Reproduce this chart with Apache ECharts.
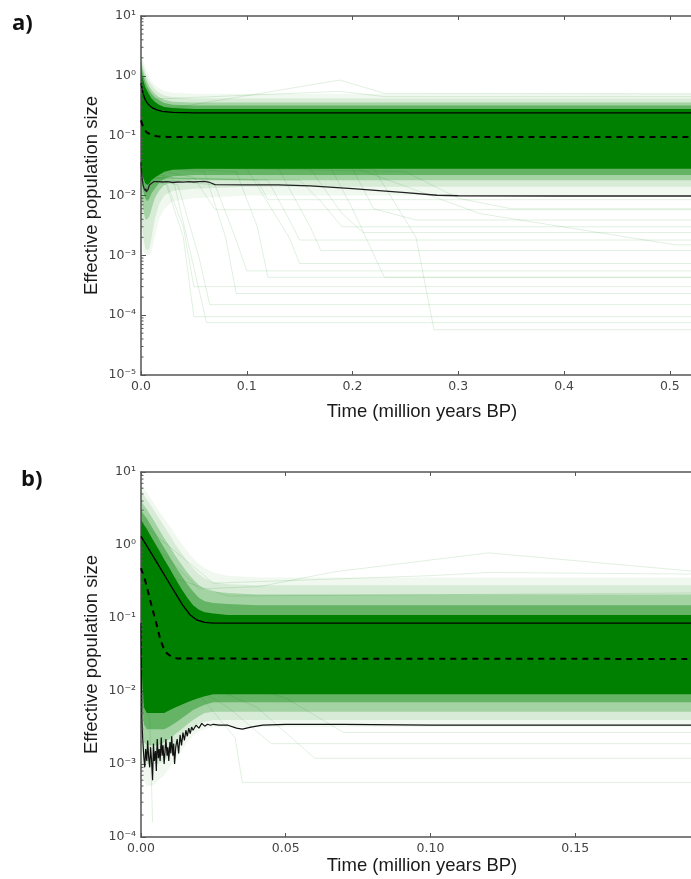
<!DOCTYPE html>
<html><head><meta charset="utf-8">
<script src="https://cdn.jsdelivr.net/npm/echarts@6/dist/echarts.min.js"></script>
<style>html,body{margin:0;padding:0;background:#fff;overflow:hidden}#c{width:691px;height:879px}</style>
</head><body><div id="c"></div><script>
// ---------- Panel a data (time in million years BP, Ne) ----------
const bandTimeA = [0, 0.002, 0.004, 0.006, 0.008, 0.010, 0.013, 0.017, 0.022, 0.03, 0.05, 0.1, 0.2, 0.3, 0.4, 0.52];
const coreUpA  = [1.2, 0.85, 0.65, 0.55, 0.48, 0.42, 0.37, 0.33, 0.30, 0.29, 0.28, 0.28, 0.28, 0.28, 0.28, 0.28];
const coreLoA  = [0.03, 0.02, 0.016, 0.015, 0.016, 0.018, 0.02, 0.022, 0.025, 0.027, 0.028, 0.028, 0.028, 0.028, 0.028, 0.028];
const band2UpA = [1.5, 1.05, 0.8, 0.66, 0.57, 0.5, 0.44, 0.39, 0.35, 0.33, 0.32, 0.32, 0.32, 0.32, 0.32, 0.32];
const band2LoA = [0.02, 0.012, 0.009, 0.008, 0.009, 0.011, 0.013, 0.016, 0.019, 0.021, 0.022, 0.022, 0.022, 0.022, 0.022, 0.022];
const band3UpA = [1.75, 1.25, 0.95, 0.78, 0.66, 0.58, 0.5, 0.44, 0.4, 0.37, 0.36, 0.36, 0.36, 0.36, 0.36, 0.36];
const band3LoA = [0.012, 0.006, 0.004, 0.004, 0.0045, 0.006, 0.009, 0.012, 0.015, 0.017, 0.018, 0.018, 0.018, 0.018, 0.018, 0.018];
const band4UpA = [2.1, 1.5, 1.15, 0.95, 0.8, 0.7, 0.6, 0.52, 0.47, 0.44, 0.42, 0.42, 0.42, 0.42, 0.42, 0.42];
const band4LoA = [0.006, 0.002, 0.0013, 0.0012, 0.0013, 0.002, 0.004, 0.007, 0.01, 0.012, 0.013, 0.014, 0.014, 0.014, 0.014, 0.014];
const band5UpA = [2.3, 1.8, 1.4, 1.15, 0.95, 0.82, 0.7, 0.62, 0.56, 0.52, 0.5, 0.5, 0.5, 0.5, 0.5, 0.5];
const band5LoA = [0.003, 0.0012, 0.001, 0.001, 0.001, 0.0012, 0.002, 0.004, 0.006, 0.008, 0.009, 0.01, 0.01, 0.01, 0.01, 0.01];

const upperTimeA = [0, 0.002, 0.004, 0.006, 0.008, 0.011, 0.015, 0.02, 0.03, 0.05, 0.52];
const upperA     = [0.75, 0.5, 0.4, 0.35, 0.32, 0.29, 0.27, 0.255, 0.245, 0.24, 0.24];
const medianTimeA = [0, 0.002, 0.005, 0.01, 0.015, 0.025, 0.52];
const medianA     = [0.18, 0.14, 0.115, 0.102, 0.098, 0.095, 0.095];
const lowerTimeA = [0, 0.0005, 0.001, 0.0015, 0.002, 0.0025, 0.003, 0.0035, 0.004, 0.0045, 0.005, 0.0055, 0.006, 0.0065, 0.007, 0.008, 0.009, 0.010, 0.011, 0.012, 0.013, 0.014, 0.015, 0.017, 0.02, 0.025, 0.03, 0.035, 0.04, 0.045, 0.05, 0.055, 0.06, 0.065, 0.07, 0.1, 0.13, 0.16, 0.2, 0.25, 0.28, 0.3, 0.4, 0.52];
const lowerA     = [0.036, 0.026, 0.02, 0.017, 0.015, 0.016, 0.013, 0.014, 0.012, 0.013, 0.0115, 0.012, 0.011, 0.0125, 0.013, 0.015, 0.014, 0.016, 0.015, 0.017, 0.016, 0.017, 0.0165, 0.017, 0.0168, 0.017, 0.0165, 0.0168, 0.0167, 0.017, 0.0168, 0.017, 0.0172, 0.0165, 0.0152, 0.015, 0.015, 0.0145, 0.013, 0.0112, 0.0101, 0.0099, 0.0098, 0.0098];

// a few individual faint sample trajectories (panel a)
const samplesA = [
  [[0,0.025],[0.03,0.02],[0.045,0.0015],[0.062,7.5e-5],[0.52,7.5e-5]],
  [[0,0.03],[0.02,0.025],[0.04,0.002],[0.05,9.4e-5],[0.52,9.4e-5]],
  [[0,0.03],[0.06,0.025],[0.08,0.002],[0.09,2.3e-4],[0.52,2.3e-4]],
  [[0,0.03],[0.09,0.025],[0.11,0.003],[0.12,4.3e-4],[0.52,4.3e-4]],
  [[0,0.03],[0.1,0.028],[0.14,0.002],[0.15,7.3e-4],[0.52,7.3e-4]],
  [[0,0.03],[0.13,0.028],[0.16,0.003],[0.17,0.0012],[0.52,0.0012]],
  [[0,0.03],[0.16,0.028],[0.19,0.005],[0.21,0.0024],[0.52,0.0024]],
  [[0,0.03],[0.18,0.028],[0.2,0.006],[0.23,4.3e-4],[0.52,4.3e-4]],
  [[0,0.03],[0.2,0.028],[0.22,0.006],[0.26,0.0039],[0.52,0.0039]],
  [[0,0.03],[0.22,0.028],[0.26,0.002],[0.277,5.7e-5],[0.52,5.7e-5]],
  [[0,0.03],[0.05,0.02],[0.07,0.0058],[0.52,0.0058]],
  [[0,0.03],[0.25,0.025],[0.3,0.009],[0.35,0.006],[0.52,0.006]],
  [[0,0.03],[0.2,0.03],[0.32,0.005],[0.505,0.0015],[0.52,0.0015]],
  [[0,0.02],[0.035,0.015],[0.055,0.0009],[0.065,1.5e-4],[0.52,1.5e-4]],
  [[0,0.02],[0.07,0.015],[0.09,0.0018],[0.1,5.5e-4],[0.52,5.5e-4]],
  [[0,0.02],[0.12,0.018],[0.14,0.004],[0.15,0.0018],[0.52,0.0018]],
  [[0,0.02],[0.15,0.018],[0.17,0.008],[0.19,0.003],[0.52,0.003]],
  [[0,0.02],[0.025,0.015],[0.04,0.003],[0.05,3e-4],[0.52,3e-4]],
  [[0,0.02],[0.11,0.018],[0.12,0.0085],[0.52,0.0085]],
  [[0,0.35],[0.02,0.27],[0.188,0.85],[0.23,0.51],[0.52,0.5]],
  [[0,0.4],[0.188,0.55],[0.23,0.45],[0.52,0.45]]
];

// ---------- Panel b data ----------
const bandTimeB = [0, 0.001, 0.002, 0.004, 0.006, 0.008, 0.010, 0.012, 0.014, 0.016, 0.018, 0.020, 0.022, 0.025, 0.03, 0.04, 0.06, 0.1, 0.19];
const coreUpB  = [2.2, 1.9, 1.65, 1.2, 0.88, 0.64, 0.47, 0.34, 0.25, 0.19, 0.15, 0.13, 0.12, 0.115, 0.11, 0.11, 0.11, 0.11, 0.11];
const coreLoB  = [0.03, 0.006, 0.005, 0.005, 0.005, 0.005, 0.0055, 0.006, 0.0065, 0.007, 0.0075, 0.008, 0.0085, 0.009, 0.009, 0.009, 0.009, 0.009, 0.009];
const band2UpB = [3.0, 2.6, 2.3, 1.7, 1.25, 0.92, 0.68, 0.5, 0.38, 0.29, 0.23, 0.19, 0.17, 0.16, 0.155, 0.15, 0.15, 0.15, 0.15];
const band2LoB = [0.01, 0.0035, 0.003, 0.003, 0.003, 0.003, 0.0033, 0.0037, 0.0042, 0.0048, 0.0055, 0.006, 0.0065, 0.007, 0.007, 0.007, 0.007, 0.007, 0.007];
const band3UpB = [4.0, 3.5, 3.1, 2.3, 1.7, 1.25, 0.95, 0.7, 0.54, 0.42, 0.34, 0.28, 0.25, 0.23, 0.22, 0.21, 0.21, 0.21, 0.21];
const band3LoB = [0.005, 0.002, 0.0018, 0.0018, 0.0018, 0.002, 0.0022, 0.0026, 0.003, 0.0035, 0.004, 0.0045, 0.005, 0.0052, 0.0052, 0.0052, 0.0052, 0.0052, 0.0052];
const band4UpB = [5.5, 4.8, 4.2, 3.2, 2.4, 1.8, 1.35, 1.0, 0.78, 0.6, 0.48, 0.4, 0.35, 0.31, 0.29, 0.28, 0.28, 0.28, 0.28];
const band4LoB = [0.002, 0.0012, 0.001, 0.001, 0.001, 0.0011, 0.0013, 0.0016, 0.002, 0.0025, 0.003, 0.0035, 0.0038, 0.004, 0.004, 0.004, 0.004, 0.004, 0.004];
const band5UpB = [7, 6, 5.3, 4, 3, 2.3, 1.8, 1.35, 1.05, 0.82, 0.66, 0.55, 0.48, 0.42, 0.38, 0.36, 0.36, 0.36, 0.36];
const band5LoB = [0.001, 0.0006, 0.0005, 0.0005, 0.0006, 0.0007, 0.0009, 0.0012, 0.0015, 0.002, 0.0024, 0.0028, 0.003, 0.0032, 0.0032, 0.0032, 0.0032, 0.0032, 0.0032];

const upperTimeB = [0, 0.005, 0.01, 0.0144, 0.017, 0.0193, 0.022, 0.025, 0.19];
const upperB     = [1.31, 0.62, 0.29, 0.15, 0.11, 0.094, 0.087, 0.085, 0.085];
const medianTimeB = [0, 0.0015, 0.0028, 0.004, 0.005, 0.006, 0.0067, 0.0078, 0.0089, 0.0105, 0.0127, 0.19];
const medianB     = [0.48, 0.32, 0.2, 0.13, 0.094, 0.065, 0.05, 0.039, 0.033, 0.0295, 0.0278, 0.0275];
const lowerTimeB = [0, 0.0003, 0.0006, 0.001, 0.0013, 0.0016, 0.002, 0.0023, 0.0026, 0.003, 0.0033, 0.0036, 0.004, 0.0043, 0.0046, 0.005, 0.0053, 0.0056, 0.006, 0.0063, 0.0066, 0.007, 0.0073, 0.0076, 0.008, 0.0083, 0.0086, 0.009, 0.0093, 0.0096, 0.010, 0.0103, 0.0106, 0.011, 0.0113, 0.0116, 0.012, 0.0125, 0.013, 0.0135, 0.014, 0.0145, 0.015, 0.0155, 0.016, 0.0165, 0.017, 0.0175, 0.018, 0.019, 0.020, 0.021, 0.022, 0.023, 0.024, 0.025, 0.027, 0.03, 0.033, 0.035, 0.038, 0.042, 0.05, 0.07, 0.1, 0.15, 0.19];
const lowerB     = [0.085, 0.004, 0.0022, 0.0012, 0.0009, 0.0016, 0.0011, 0.0021, 0.0013, 0.0009, 0.0017, 0.0012, 0.0006, 0.0019, 0.0011, 0.0015, 0.0008, 0.0022, 0.0012, 0.0016, 0.0011, 0.0023, 0.0013, 0.0018, 0.0010, 0.0015, 0.0022, 0.0013, 0.0017, 0.0011, 0.0020, 0.0014, 0.0024, 0.0013, 0.0019, 0.0010, 0.0017, 0.0022, 0.0014, 0.0025, 0.0018, 0.0027, 0.0021, 0.0029, 0.0024, 0.0031, 0.0026, 0.0032, 0.0029, 0.0034, 0.0031, 0.0036, 0.0033, 0.0035, 0.0034, 0.0035, 0.0034, 0.0034, 0.0031, 0.0030, 0.0032, 0.0034, 0.0035, 0.0035, 0.0034, 0.0034, 0.0034];

const samplesB = [
  [[0,1.5],[0.02,0.25],[0.041,0.27],[0.067,0.43],[0.12,0.78],[0.19,0.44]],
  [[0,2],[0.025,0.3],[0.1,0.38],[0.12,0.42],[0.19,0.4]],
  [[0,0.3],[0.02,0.009],[0.0325,0.0023],[0.035,5.6e-4],[0.19,5.6e-4]],
  [[0,0.02],[0.003,0.004],[0.004,1.6e-4]],
  [[0,0.03],[0.03,0.006],[0.045,0.0019],[0.19,0.0019]],
  [[0,0.03],[0.04,0.006],[0.06,0.0012],[0.19,0.0012]],
  [[0,0.03],[0.05,0.008],[0.07,0.0027],[0.19,0.0027]],
  [[0,0.5],[0.03,0.2],[0.19,0.22]]
];

// x ticks / y ticks
const xTicksA = [0, 0.1, 0.2, 0.3, 0.4, 0.5];
const xTicksB = [0, 0.05, 0.10, 0.15];
const yDecadesA = [1e-5, 1e-4, 1e-3, 1e-2, 1e-1, 1, 10];
const yDecadesB = [1e-4, 1e-3, 1e-2, 1e-1, 1, 10];

// ---------- helpers ----------
const SUP = {'-':'\u207B','0':'\u2070','1':'\u00B9','2':'\u00B2','3':'\u00B3','4':'\u2074','5':'\u2075','6':'\u2076','7':'\u2077','8':'\u2078','9':'\u2079'};
function logLabel(v){ const e = Math.round(Math.log10(v)); return '10' + String(e).split('').map(c=>SUP[c]).join(''); }
function minorValues(decades){ const out=[]; for(let i=0;i<decades.length-1;i++){ for(let k=2;k<=9;k++) out.push(decades[i]*k);} return out; }

const AXC = '#555';
const TICKFONT = {fontFamily:'DejaVu Sans', fontSize:12.5, color:'#444'};
const TITLEFONT = {fontFamily:'Liberation Sans', fontSize:18.5, color:'#1a1a1a'};

function band(gi, t, up, lo, alpha){
  return {
    type:'custom', xAxisIndex: gi*2, yAxisIndex: gi, clip:true, silent:true, z:2,
    data: t.map((x,i)=>[x, up[i], lo[i]]),
    encode:{x:0, y:1},
    renderItem: function(params, api){
      if (params.dataIndex !== 0) return;
      const pts = [];
      for (let i=0;i<t.length;i++) pts.push(api.coord([t[i], up[i]]));
      for (let i=t.length-1;i>=0;i--) pts.push(api.coord([t[i], lo[i]]));
      return {type:'polygon', shape:{points:pts}, style:{fill:'rgba(0,128,0,'+alpha+')'}};
    }
  };
}
function line(gi, t, v, style, z){
  return { type:'line', xAxisIndex: gi*2, yAxisIndex: gi, showSymbol:false, silent:true, clip:true, z: z||5,
    data: t.map((x,i)=>[x, v[i]]), lineStyle: style };
}
function minorTicks(gi, vals, x0){
  return { type:'custom', xAxisIndex: gi*2, yAxisIndex: gi, silent:true, z:10, clip:false,
    data: vals.map(v=>[x0, v]), encode:{x:0,y:1},
    renderItem: function(params, api){
      const p = api.coord([x0, api.value(1)]);
      return {type:'line', shape:{x1:p[0], y1:p[1], x2:p[0]+2.5, y2:p[1]}, style:{stroke:AXC, lineWidth:1}};
    }
  };
}
function xAxes(gi, max, interval, ticks, digits, nameGap){
  const fmt = v => { for (const t of ticks) if (Math.abs(v-t) < 1e-9) return t.toFixed(digits); return ''; };
  return [
    { type:'value', gridIndex: gi, position:'bottom', min:0, max:max, interval:interval,
      axisLine:{show:true, lineStyle:{color:AXC, width:1.5}},
      axisTick:{show:true, inside:true, length:4, lineStyle:{color:AXC}},
      axisLabel:{show:true, formatter: fmt, margin:5, showMaxLabel:false, ...TICKFONT},
      splitLine:{show:false},
      name:'Time (million years BP)', nameLocation:'middle', nameGap: nameGap,
      nameTextStyle:{...TITLEFONT, padding:[0,0,0,12]} },
    { type:'value', gridIndex: gi, position:'top', min:0, max:max, interval:interval,
      axisLine:{show:true, lineStyle:{color:AXC, width:1.5}},
      axisTick:{show:true, inside:true, length:4, lineStyle:{color:AXC}},
      axisLabel:{show:false}, splitLine:{show:false} }
  ];
}
function yAxis(gi, min, max){
  return { type:'log', logBase:10, gridIndex: gi, min:min, max:max, splitNumber: 10,
    axisLine:{show:true, lineStyle:{color:AXC, width:1.5}},
    axisTick:{show:true, inside:true, length:5, lineStyle:{color:AXC}},
    minorTick:{show:false},
    axisLabel:{formatter: logLabel, margin:5, ...TICKFONT},
    splitLine:{show:false},
    name:'Effective population size', nameLocation:'middle', nameGap:40, nameMoveOverlap:false,
    nameTextStyle:{...TITLEFONT} };
}

const series = [];
const faint = {color:'rgba(0,128,0,0.12)', width:1};
samplesA.forEach(s => series.push(line(0, s.map(p=>p[0]), s.map(p=>p[1]), faint, 1)));
samplesB.forEach(s => series.push(line(1, s.map(p=>p[0]), s.map(p=>p[1]), faint, 1)));
series.push(band(0, bandTimeA, band5UpA, band5LoA, 0.06));
series.push(band(0, bandTimeA, band4UpA, band4LoA, 0.10));
series.push(band(0, bandTimeA, band3UpA, band3LoA, 0.24));
series.push(band(0, bandTimeA, band2UpA, band2LoA, 0.38));
series.push(band(0, bandTimeA, coreUpA, coreLoA, 1));
series.push(band(1, bandTimeB, band5UpB, band5LoB, 0.06));
series.push(band(1, bandTimeB, band4UpB, band4LoB, 0.10));
series.push(band(1, bandTimeB, band3UpB, band3LoB, 0.24));
series.push(band(1, bandTimeB, band2UpB, band2LoB, 0.38));
series.push(band(1, bandTimeB, coreUpB, coreLoB, 1));
series.push(line(0, upperTimeA, upperA, {color:'#000', width:1.4}));
series.push(line(0, lowerTimeA, lowerA, {color:'#222', width:1.3}));
series.push(line(0, medianTimeA, medianA, {color:'#000', width:2, type:[6,5]}));
series.push(line(1, upperTimeB, upperB, {color:'#000', width:1.4}));
series.push(line(1, lowerTimeB, lowerB, {color:'#111', width:1.2}));
series.push(line(1, medianTimeB, medianB, {color:'#000', width:2, type:[6,5]}));
series.push(minorTicks(0, minorValues(yDecadesA), 0));
series.push(minorTicks(1, minorValues(yDecadesB), 0));

const chart = echarts.init(document.getElementById('c'), null, {renderer:'canvas'});
chart.setOption({
  animation:false,
  backgroundColor:'#fff',
  grid:[
    {left:141, top:16, width:564, height:359, containLabel:false},
    {left:141, top:472, width:576, height:365, containLabel:false}
  ],
  xAxis:[ ...xAxes(0, 0.52, 0.1, xTicksA, 1, 27), ...xAxes(1, 0.19, 0.05, xTicksB, 2, 19) ],
  yAxis:[ yAxis(0, yDecadesA[0], yDecadesA[yDecadesA.length-1]), yAxis(1, yDecadesB[0], yDecadesB[yDecadesB.length-1]) ],
  graphic:[
    {type:'text', left:12, top:13, style:{text:'a)', font:'bold 22px "Open Sans", "Liberation Sans", sans-serif', fill:'#111'}},
    {type:'text', left:21, top:469, style:{text:'b)', font:'bold 22px "Open Sans", "Liberation Sans", sans-serif', fill:'#111'}}
  ],
  series: series
});
</script></body></html>
